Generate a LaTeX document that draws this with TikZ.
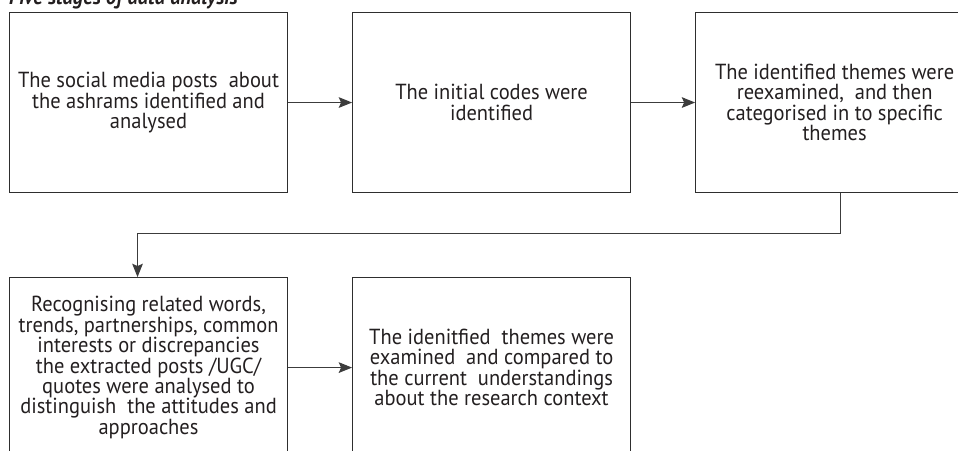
\documentclass[tikz,border=0pt]{standalone}
\usepackage{fontspec}
\setmainfont{PT Sans}[FakeStretch=0.94]
\usepackage{tikz}
\usetikzlibrary{arrows.meta, positioning}
\definecolor{boxgray}{HTML}{2E2E2E}
\definecolor{linegray}{HTML}{3C3C3C}
\definecolor{textgray}{HTML}{231F20}
\tikzset{
	block/.style={rectangle, draw=boxgray, line width=0.9pt, minimum width=8.34cm, minimum height=5.4cm, align=center, text=textgray, font=\fontsize{18.6}{17.4}\selectfont, inner sep=0pt},
	line/.style={draw=linegray, line width=0.9pt, -{Stealth[length=4mm, width=3.2mm, inset=0.7mm]}}
}

\begin{document}
\begin{tikzpicture}[node distance=1.92cm and 2.52cm, >=Stealth]
	\useasboundingbox (0,0) rectangle (28.74,-13.5);
	% Title (cut at the top)
	\node[anchor=base west, inner sep=0pt, text=textgray, font=\fontsize{18.6}{17}\selectfont\bfseries\itshape] (title) at (0.27,-0.12) {Five stages of data analysis};
	
	% Top row of stages
	\node[block, anchor=north west] (posts) at (0.27,-0.36) {The social media posts \ about\\the ashrams identified and\\analysed};
	\node[block, right=1.92cm of posts] (codes) {The initial codes were\\identified};
	\node[block, right=1.92cm of codes] (themes) {The identified themes were\\reexamined, \ and then\\categorised in to specific\\themes};
	
	% Bottom row of stages
	\node[block, below=2.52cm of posts] (relate) {Recognising related words,\\trends, partnerships, common\\interests or discrepancies\\the extracted posts /UGC/\\quotes were analysed to\\distinguish \ the attitudes and\\approaches};
	\node[block, right=1.92cm of relate] (compare) {The idenitfied \ themes were\\examined \ and compared to\\the current \ understandings\\about the research context};
	
	% Connecting arrows
	\path[line] (posts) -- (codes);
	\path[line] (codes) -- (themes);
	\path[line] ([xshift=0.18cm]themes.south) -- ++(0,-1.2) -| ([xshift=-0.33cm]relate.north);
	\path[line] (relate) -- (compare);
\end{tikzpicture}
\end{document}
